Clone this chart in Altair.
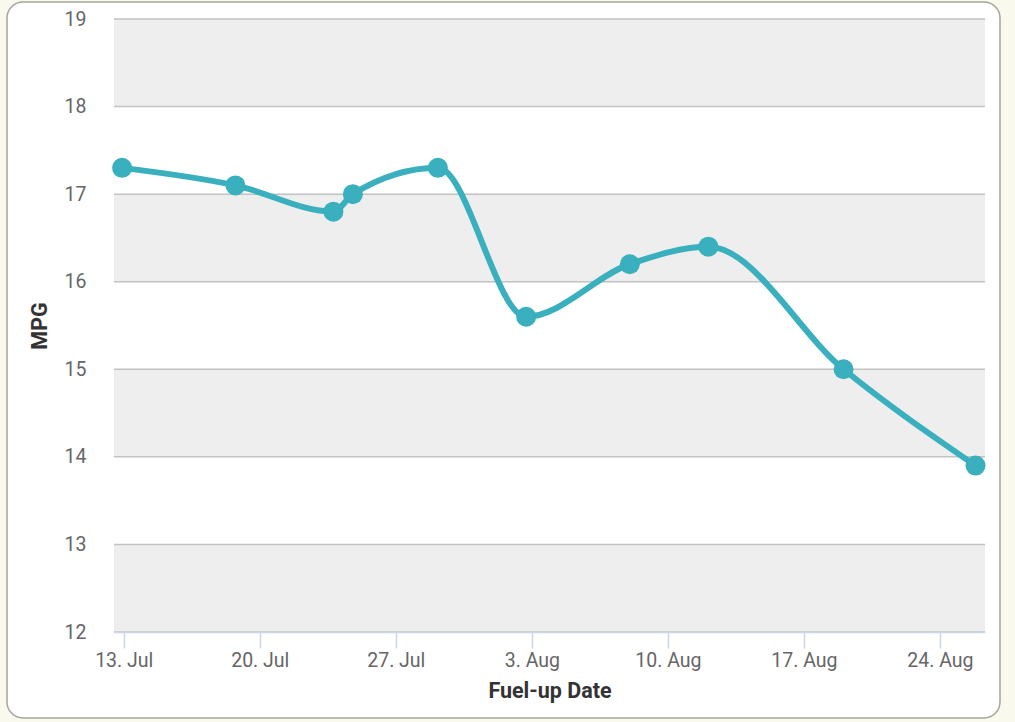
import altair as alt
import pandas as pd

# Data
dates = [
    "2014-07-12T22:00:00Z", "2014-07-18T18:00:00Z", "2014-07-23T19:00:00Z",
    "2014-07-24T19:00:00Z", "2014-07-29T04:00:00Z", "2014-08-02T17:00:00Z",
    "2014-08-08T01:00:00Z", "2014-08-12T02:00:00Z", "2014-08-19T01:00:00Z",
    "2014-08-25T20:00:00Z",
]
mpg = [17.3, 17.1, 16.8, 17.0, 17.3, 15.6, 16.2, 16.4, 15.0, 13.9]
y_ticks = [12, 13, 14, 15, 16, 17, 18, 19]
band_starts = [12, 14, 16, 18]
x_tick_days = [(7, 13), (7, 20), (7, 27), (8, 3), (8, 10), (8, 17), (8, 24)]

W, H = 871, 613
FONT = "Roboto"
TEAL = "#3aafbd"

df = pd.DataFrame({"date": dates, "mpg": mpg})
bands = pd.DataFrame({"y0": band_starts, "y1": [b + 1 for b in band_starts]})
grid = pd.DataFrame({"y": y_ticks})

x_scale = alt.Scale(
    type="utc",
    domain=[alt.DateTime(year=2014, month=7, date=12, hours=12, utc=True),
            alt.DateTime(year=2014, month=8, date=26, hours=7, minutes=40, utc=True)],
)
y_scale = alt.Scale(domain=[12, 19], nice=False, zero=False)

x_axis = alt.Axis(
    title="Fuel-up Date",
    values=[alt.DateTime(year=2014, month=m, date=d, utc=True) for m, d in x_tick_days],
    format="%-d. %b",
    grid=False,
    domainColor="#ccd6eb", domainWidth=1.5,
    tickColor="#ccd6eb", tickSize=16, tickWidth=1.5,
    labelColor="#666666", labelFontSize=19.5, labelFont=FONT, labelPadding=3,
    titleColor="#333333", titleFontSize=21.5, titleFont=FONT, titleFontWeight="bold",
    titlePadding=11, zindex=1, labelFlush=False,
)
y_axis = alt.Axis(
    title="MPG", values=y_ticks, format="d", grid=False, domain=False, ticks=False,
    labelColor="#666666", labelFontSize=19.5, labelFont=FONT, labelPadding=28,
    titleColor="#333333", titleFontSize=21.5, titleFont=FONT, titleFontWeight="bold",
    titlePadding=13, zindex=1,
)

frame = alt.Chart(alt.Data(values=[{"a": 1}])).mark_rect(
    fill="white", stroke="#a5a59d", strokeWidth=1.5, cornerRadius=16
).encode(
    x=alt.value(-107), x2=alt.value(886), y=alt.value(-17), y2=alt.value(699)
)

band_layer = alt.Chart(bands).mark_rect(color="#eeeeee").encode(
    x=alt.value(0), x2=alt.value(W),
    y=alt.Y("y0:Q", scale=y_scale, axis=y_axis), y2="y1:Q",
)

grid_layer = alt.Chart(grid).mark_rule(color="#c2c2c2", strokeWidth=1.5).encode(
    x=alt.value(0), x2=alt.value(W),
    y=alt.Y("y:Q", scale=y_scale),
)

line = alt.Chart(df).mark_line(
    color=TEAL, strokeWidth=6, interpolate="monotone"
).encode(
    x=alt.X("date:T", scale=x_scale, axis=x_axis),
    y=alt.Y("mpg:Q", scale=y_scale),
)
points = alt.Chart(df).mark_circle(color=TEAL, size=400, opacity=1).encode(
    x=alt.X("date:T", scale=x_scale),
    y=alt.Y("mpg:Q", scale=y_scale),
)

chart = alt.layer(frame, band_layer, grid_layer, line, points).properties(
    width=W, height=H,
    autosize=alt.AutoSizeParams(type="none"),
    padding={"left": 114, "top": 19, "right": 30, "bottom": 90},
    background="#f9f9ee",
).configure_view(stroke=None)

chart.save("out.html", embed_options={"renderer": "svg", "actions": False})
